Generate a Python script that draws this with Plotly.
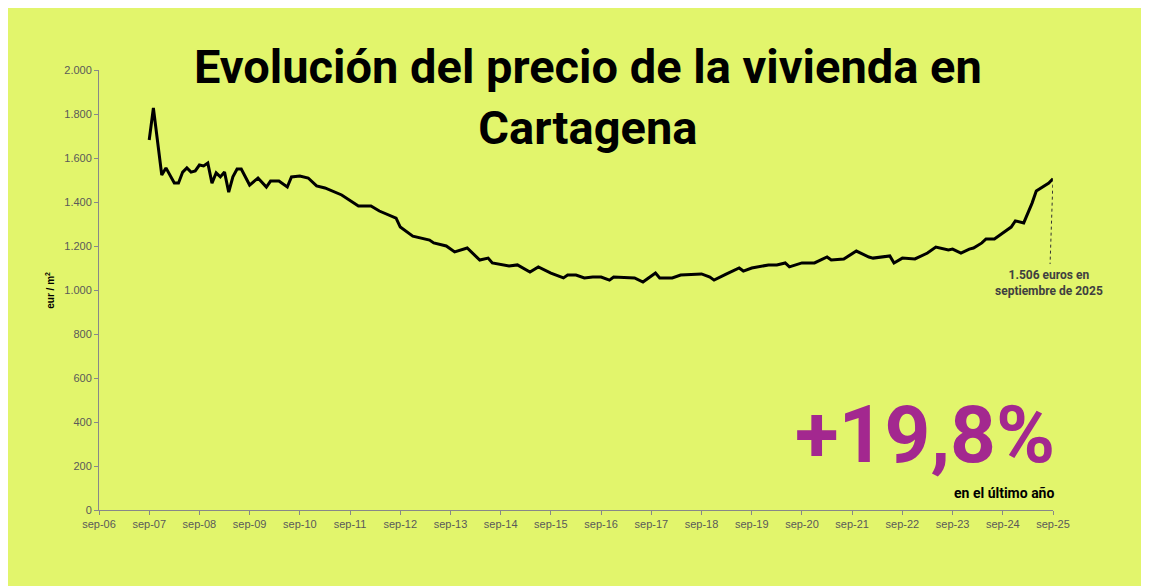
import plotly.graph_objects as go

# months since sep-06
months = [12, 13, 15, 16, 18, 19, 20, 21, 22, 23, 24, 25, 26, 27, 28, 29, 30, 31, 32, 33,
          34, 36, 38, 40, 41, 43, 45, 46, 48, 50, 52, 54, 58, 62, 65, 67, 71, 72, 75, 79,
          80, 83, 85, 88, 91, 93, 94, 98, 100, 103, 105, 108, 111, 112, 114, 116, 118, 120, 122, 123,
          128, 130, 131, 133, 134, 137, 139, 144, 146, 147, 150, 153, 154, 156, 160, 162, 164, 165, 168, 171,
          174, 175, 178, 181, 184, 185, 189, 190, 192, 195, 198, 200, 203, 204, 206, 208, 209, 211, 212, 214,
          216, 218, 219, 221, 223, 224, 227, 228]
price = [1682, 1827, 1523, 1555, 1486, 1486, 1536, 1555, 1536, 1541, 1568, 1564, 1577, 1486, 1532, 1514, 1536, 1445, 1514, 1550,
         1550, 1477, 1509, 1468, 1495, 1495, 1468, 1514, 1518, 1509, 1473, 1464, 1432, 1382, 1382, 1359, 1327, 1286, 1245, 1227,
         1214, 1200, 1173, 1191, 1136, 1145, 1123, 1109, 1114, 1082, 1105, 1077, 1055, 1068, 1068, 1055, 1059, 1059, 1045, 1059,
         1055, 1036, 1050, 1077, 1055, 1055, 1068, 1073, 1059, 1045, 1073, 1100, 1086, 1100, 1114, 1114, 1123, 1105, 1123, 1123,
         1150, 1136, 1141, 1177, 1150, 1145, 1155, 1123, 1145, 1141, 1168, 1195, 1182, 1186, 1168, 1186, 1191, 1214, 1232, 1232,
         1259, 1286, 1314, 1305, 1395, 1450, 1486, 1506]
tick_months = list(range(0, 229, 12))
tick_labels = ["sep-%02d" % (6 + i) for i in range(len(tick_months))]
y_ticks = list(range(0, 2001, 200))

bg = "#e2f56c"
fig = go.Figure()
fig.add_trace(go.Scatter(x=months, y=price, mode="lines",
                         line=dict(color="black", width=3), hoverinfo="skip"))
# dotted leader line to the label
fig.add_trace(go.Scatter(x=[months[-1], months[-1] - 0.7], y=[price[-1], 1118], mode="lines",
                         line=dict(color="#333", width=1, dash="dot"), hoverinfo="skip"))

fig.update_layout(
    width=1149, height=586, paper_bgcolor=bg, plot_bgcolor=bg, showlegend=False,
    margin=dict(l=91, r=104, t=62, b=84), separators=",.",
    font=dict(family="Liberation Sans", color="#595959", size=11),
    xaxis=dict(range=[0, 228], tickvals=tick_months, ticktext=tick_labels, showgrid=False,
               showline=True, linecolor="#888", ticks="outside", ticklen=4, tickcolor="#888",
               zeroline=False),
    yaxis=dict(range=[0, 2000], tickvals=y_ticks, tickformat=",", showgrid=False,
               showline=True, linecolor="#888", ticks="outside", ticklen=4, tickcolor="#888",
               zeroline=False),
)
fig.add_annotation(text="<b>Evolución del precio de la vivienda en<br>Cartagena</b>",
                   xref="paper", yref="paper", x=0.513, y=1.075, yanchor="top", showarrow=False,
                   font=dict(family="Roboto", size=47, color="black"))
fig.add_annotation(text="<b>eur / m<sup>2</sup></b>", xref="paper", yref="paper", x=-0.06, y=0.5,
                   textangle=-90, showarrow=False, font=dict(family="Liberation Sans", size=10, color="black"))
fig.add_annotation(text="<b>+19,8%</b>", xref="paper", yref="paper", x=1.004, y=0.06,
                   xanchor="right", yanchor="bottom", showarrow=False,
                   font=dict(family="Roboto", size=80, color="#a3288f"))
fig.add_annotation(text="<b>en el último año</b>", xref="paper", yref="paper", x=1.003, y=0.015,
                   xanchor="right", yanchor="bottom", showarrow=False,
                   font=dict(family="Roboto", size=14, color="black"))
fig.add_annotation(text="<b>1.506 euros en<br>septiembre de 2025</b>", x=months[-1] - 1, y=1030,
                   showarrow=False, font=dict(family="Roboto", size=12, color="#404040"))
fig.write_html("out.html")
